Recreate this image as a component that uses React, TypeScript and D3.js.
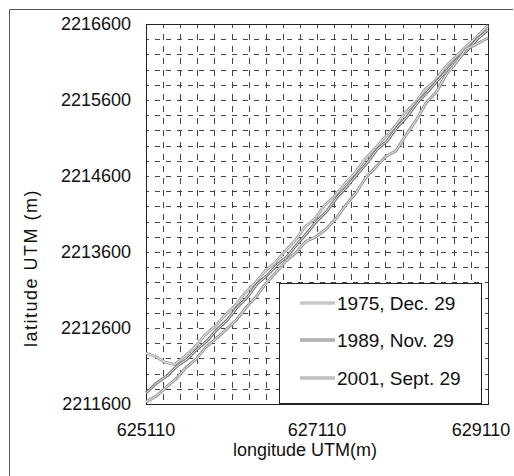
import { useRef, useEffect } from "react";
import * as d3 from "d3";

const xTicks = [625110, 627110, 629110];
const yTicks = [2211600, 2212600, 2213600, 2214600, 2215600, 2216600];
const gridStep = 200;

const seriesNames = ["1975, Dec. 29", "1989, Nov. 29", "2001, Sept. 29"];
const seriesColors = ["#a8a8a8", "#7a7a7a", "#999999"];

const shore1975: [number, number][] = [
  [625110, 2212270], [625215, 2212230], [625332, 2212150], [625449, 2212120],
  [625566, 2212230], [625683, 2212350], [625800, 2212510], [625917, 2212620],
  [626034, 2212770], [626151, 2212890], [626268, 2213060], [626385, 2213190],
  [626502, 2213350], [626619, 2213460], [626736, 2213610], [626853, 2213750],
  [626970, 2213930], [627087, 2214040], [627204, 2214220], [627320, 2214340],
  [627437, 2214500], [627554, 2214640], [627671, 2214820], [627788, 2214960],
  [627905, 2215110], [628022, 2215250], [628139, 2215430], [628256, 2215560],
  [628373, 2215740], [628490, 2215850], [628607, 2216030], [628724, 2216160],
  [628841, 2216290], [628958, 2216410], [629110, 2216580],
];

const shore1989: [number, number][] = [
  [625110, 2211745], [625239, 2211880], [625356, 2211970], [625473, 2212100],
  [625590, 2212190], [625707, 2212320], [625823, 2212430], [625940, 2212580],
  [626057, 2212700], [626174, 2212870], [626291, 2213000], [626408, 2213180],
  [626525, 2213290], [626642, 2213430], [626759, 2213540], [626876, 2213700],
  [626993, 2213850], [627110, 2214010], [627227, 2214140], [627344, 2214320],
  [627461, 2214460], [627578, 2214620], [627695, 2214770], [627812, 2214950],
  [627929, 2215060], [628046, 2215240], [628163, 2215380], [628280, 2215560],
  [628397, 2215700], [628514, 2215850], [628631, 2215990], [628748, 2216140],
  [628865, 2216250], [628982, 2216400], [629110, 2216520],
];

const shore2001: [number, number][] = [
  [625110, 2211630], [625227, 2211700], [625344, 2211820], [625461, 2211930],
  [625578, 2212080], [625695, 2212190], [625812, 2212350], [625929, 2212460],
  [626046, 2212580], [626163, 2212700], [626280, 2212870], [626397, 2213010],
  [626514, 2213190], [626630, 2213330], [626747, 2213480], [626864, 2213590],
  [626981, 2213740], [627098, 2213800], [627215, 2213900], [627332, 2214040],
  [627449, 2214220], [627566, 2214380], [627683, 2214580], [627800, 2214720],
  [627917, 2214860], [628034, 2214930], [628151, 2215140], [628268, 2215330],
  [628385, 2215560], [628502, 2215700], [628619, 2215930], [628736, 2216090],
  [628853, 2216270], [628970, 2216330], [629110, 2216420],
];

const allSeries = [shore1975, shore1989, shore2001];

function ShorelineChart() {
  const svgRef = useRef<SVGSVGElement>(null);

  useEffect(() => {
    drawChart();
  }, []);

  function drawChart() {
    if (!svgRef.current) return;
    const svg = d3.select(svgRef.current);
    svg.selectAll("*").remove();

    const left = 146;
    const right = 488;
    const top = 24;
    const bottom = 404;

    const x = d3.scaleLinear().domain([xTicks[0], xTicks[xTicks.length - 1]]).range([left, right]);
    const y = d3.scaleLinear().domain([yTicks[0], yTicks[yTicks.length - 1]]).range([bottom, top]);

    const font = "'Liberation Sans', Arial, sans-serif";

    // outer frame of the figure (only left and top show in the scan)
    svg
      .append("path")
      .attr("d", "M9.5,476V9.5H513")
      .attr("fill", "none")
      .attr("stroke", "#555")
      .attr("stroke-width", 1);

    // dashed grid
    const grid = svg.append("g").attr("stroke", "#444").attr("stroke-width", 1);
    const gx = d3.range(x.domain()[0] + gridStep, x.domain()[1], gridStep);
    const gy = d3.range(y.domain()[0] + gridStep, y.domain()[1], gridStep);

    grid
      .selectAll("line.v")
      .data(gx)
      .join("line")
      .attr("class", "v")
      .attr("x1", (d) => Math.round(x(d)) + 0.5)
      .attr("x2", (d) => Math.round(x(d)) + 0.5)
      .attr("y1", top)
      .attr("y2", bottom)
      .attr("stroke-dasharray", "6,6")
      .attr("stroke-dashoffset", 2);

    grid
      .selectAll("line.h")
      .data(gy)
      .join("line")
      .attr("class", "h")
      .attr("x1", left)
      .attr("x2", right)
      .attr("y1", (d) => Math.round(y(d)) + 0.5)
      .attr("y2", (d) => Math.round(y(d)) + 0.5)
      .attr("stroke-dasharray", "5,6")
      .attr("stroke-dashoffset", 2);

    // plot frame
    svg
      .append("rect")
      .attr("x", left + 0.5)
      .attr("y", top + 0.5)
      .attr("width", right - left)
      .attr("height", bottom - top)
      .attr("fill", "none")
      .attr("stroke", "#222")
      .attr("stroke-width", 1);

    const line = d3
      .line<[number, number]>()
      .x((d) => x(d[0]))
      .y((d) => y(d[1]));

    const lines = svg.append("g");
    allSeries.forEach((s, i) => {
      lines
        .append("path")
        .datum(s)
        .attr("fill", "none")
        .attr("stroke", seriesColors[i])
        .attr("stroke-width", 3)
        .attr("stroke-linejoin", "round")
        .attr("d", line);
      lines
        .append("path")
        .datum(s)
        .attr("fill", "none")
        .attr("stroke", "#e8e8e8")
        .attr("stroke-width", 1)
        .attr("stroke-linejoin", "round")
        .attr("d", line);
    });

    // tick labels
    svg
      .append("g")
      .selectAll("text")
      .data(yTicks)
      .join("text")
      .attr("x", 131)
      .attr("y", (d) => y(d))
      .attr("dy", "0.36em")
      .attr("text-anchor", "end")
      .attr("font-family", font)
      .attr("font-size", 18)
      .attr("fill", "#111")
      .text((d) => d);

    svg
      .append("g")
      .selectAll("text")
      .data(xTicks)
      .join("text")
      .attr("x", (d) => Math.min(x(d), 481))
      .attr("y", 430)
      .attr("dy", "0.36em")
      .attr("text-anchor", "middle")
      .attr("font-family", font)
      .attr("font-size", 18)
      .attr("fill", "#111")
      .text((d) => d);

    // axis titles
    svg
      .append("text")
      .attr("x", 305)
      .attr("y", 450)
      .attr("dy", "0.36em")
      .attr("text-anchor", "middle")
      .attr("font-family", font)
      .attr("font-size", 18)
      .attr("fill", "#111")
      .text("longitude UTM(m)");

    svg
      .append("text")
      .attr("transform", "translate(31,268) rotate(-90)")
      .attr("dy", "0.36em")
      .attr("text-anchor", "middle")
      .attr("font-family", font)
      .attr("font-size", 18)
      .attr("letter-spacing", 1.5)
      .attr("fill", "#111")
      .text("latitude UTM (m)");

    // legend
    const legend = svg.append("g");
    legend
      .append("rect")
      .attr("x", 279.5)
      .attr("y", 283.5)
      .attr("width", 202)
      .attr("height", 120)
      .attr("fill", "white")
      .attr("stroke", "#222")
      .attr("stroke-width", 1);

    const rowY = [303, 340, 378];
    seriesNames.forEach((name, i) => {
      legend
        .append("line")
        .attr("x1", 300)
        .attr("x2", 335)
        .attr("y1", rowY[i])
        .attr("y2", rowY[i])
        .attr("stroke", seriesColors[i])
        .attr("stroke-width", 3);
      legend
        .append("line")
        .attr("x1", 300)
        .attr("x2", 335)
        .attr("y1", rowY[i])
        .attr("y2", rowY[i])
        .attr("stroke", "#e8e8e8")
        .attr("stroke-width", 1);
      legend
        .append("text")
        .attr("x", 337)
        .attr("y", rowY[i])
        .attr("dy", "0.36em")
        .attr("font-family", font)
        .attr("font-size", 19)
        .attr("fill", "#111")
        .text(name);
    });
  }

  return (
    <div style={{ position: "absolute", top: 0, left: 0, width: 514, height: 476 }}>
      <svg ref={svgRef} width={514} height={476} style={{ display: "block" }} />
    </div>
  );
}

export default function App() {
  return <ShorelineChart />;
}
